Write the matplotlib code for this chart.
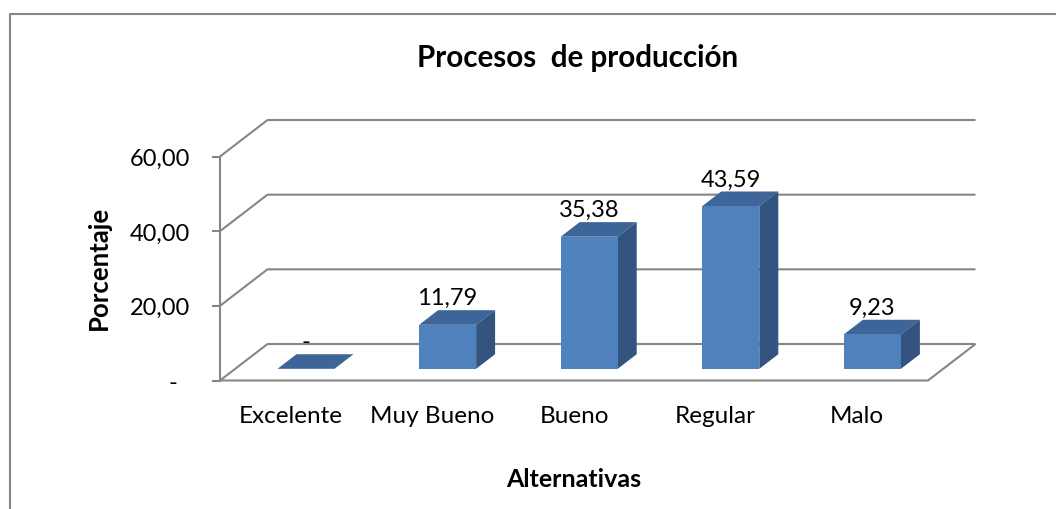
import matplotlib
matplotlib.use("Agg")
import matplotlib.pyplot as plt
from matplotlib.lines import Line2D
from matplotlib.patches import Polygon

categorias = ["Excelente", "Muy Bueno", "Bueno", "Regular", "Malo"]
porcentajes = [0, 11.79, 35.38, 43.59, 9.23]
etiquetas = ["-", "11,79", "35,38", "43,59", "9,23"]
y_ticks = [0, 20, 40, 60]
y_labels = ["-  ", "20,00", "40,00", "60,00"]

W, H = 1056, 510
GRIS = "#868686"
FRENTE, TAPA, LADO = "#4F81BD", "#3E6597", "#32547F"

plt.rcParams["font.family"] = ["Lato", "DejaVu Sans"]

fig = plt.figure(figsize=(W / 100, H / 100), dpi=100)
# front plane of the 3D box, in pixels of the picture
left, right, top, bottom = 220, 928, 157.5, 381.5
ax = fig.add_axes([left / W, 1 - bottom / H, (right - left) / W, (bottom - top) / H])
ax.set_xlim(-0.5, 4.5)
ax.set_ylim(0, 60)

# px -> data units, for the fake depth
ux = 5 / (right - left)
uy = 60 / (bottom - top)
dx, dy = 47.5 * ux, 36.5 * uy


def oblique(x, y, d=1.0):
    return x + dx * d, y + dy * d


# walls
for v in y_ticks:
    x1, y1 = oblique(-0.5, v)
    x2, y2 = oblique(4.5, v)
    ax.plot([-0.5, x1, x2], [v, y1, y2], color=GRIS, lw=1.5, clip_on=False,
            solid_joinstyle="miter", solid_capstyle="butt", zorder=1)
# floor front edge and its right side
x2, y2 = oblique(4.5, 0)
ax.plot([-0.5, 4.5, x2], [0, 0, y2], color=GRIS, lw=1.5, clip_on=False,
        solid_joinstyle="miter", solid_capstyle="butt", zorder=1)
ax.plot([-0.5, -0.5], [0, 60], color=GRIS, lw=1.5, clip_on=False, zorder=1)

# bars
ancho = 57 * ux
d0, d1 = 0.32, 0.72
for i, v in enumerate(porcentajes):
    x0, b = oblique(i - ancho / 2, 0, d0)
    x1 = x0 + ancho
    t = b + v
    sx, sy = dx * (d1 - d0), dy * (d1 - d0)
    ax.add_patch(Polygon([(x0, t), (x0 + sx, t + sy), (x1 + sx, t + sy), (x1, t)],
                         fc=TAPA, ec="none", clip_on=False, zorder=3))
    if v > 0:
        ax.add_patch(Polygon([(x1, b), (x1 + sx, b + sy), (x1 + sx, t + sy), (x1, t)],
                             fc=LADO, ec="none", clip_on=False, zorder=3))
        ax.bar(x0 + ancho / 2, v, ancho, bottom=b, color=FRENTE, clip_on=False, zorder=4)
    ax.annotate(etiquetas[i], (x0 + ancho / 2, t + sy), xytext=(0, 1.5),
                textcoords="offset points", ha="center", va="bottom",
                fontsize=17, color="black", zorder=5, annotation_clip=False)

# axes
for s in ax.spines.values():
    s.set_visible(False)
ax.patch.set_alpha(0)
ax.set_yticks(y_ticks, y_labels, fontsize=17)
ax.set_xticks(range(len(categorias)), categorias, fontsize=17.5)
ax.tick_params(axis="y", length=5.8, width=1.5, color=GRIS, pad=16)
ax.tick_params(axis="x", length=0, pad=17.5)

fig.text(578 / W, 1 - 58 / H, "Procesos  de producción", fontsize=21.3, fontweight="bold",
         ha="center", va="center")
fig.text(574 / W, 1 - 480 / H, "Alternativas", fontsize=18, fontweight="bold",
         ha="center", va="center")
fig.text(98.5 / W, 1 - 268 / H, "Porcentaje", fontsize=18.5, fontweight="bold",
         rotation=90, ha="center", va="center")

# chart frame, only left and top show in the crop
fig.add_artist(Line2D([9.5 / W, 9.5 / W, 1], [0, 1 - 14.5 / H, 1 - 14.5 / H],
                      color=GRIS, lw=1.5))

fig.savefig("out.png", dpi=100)
